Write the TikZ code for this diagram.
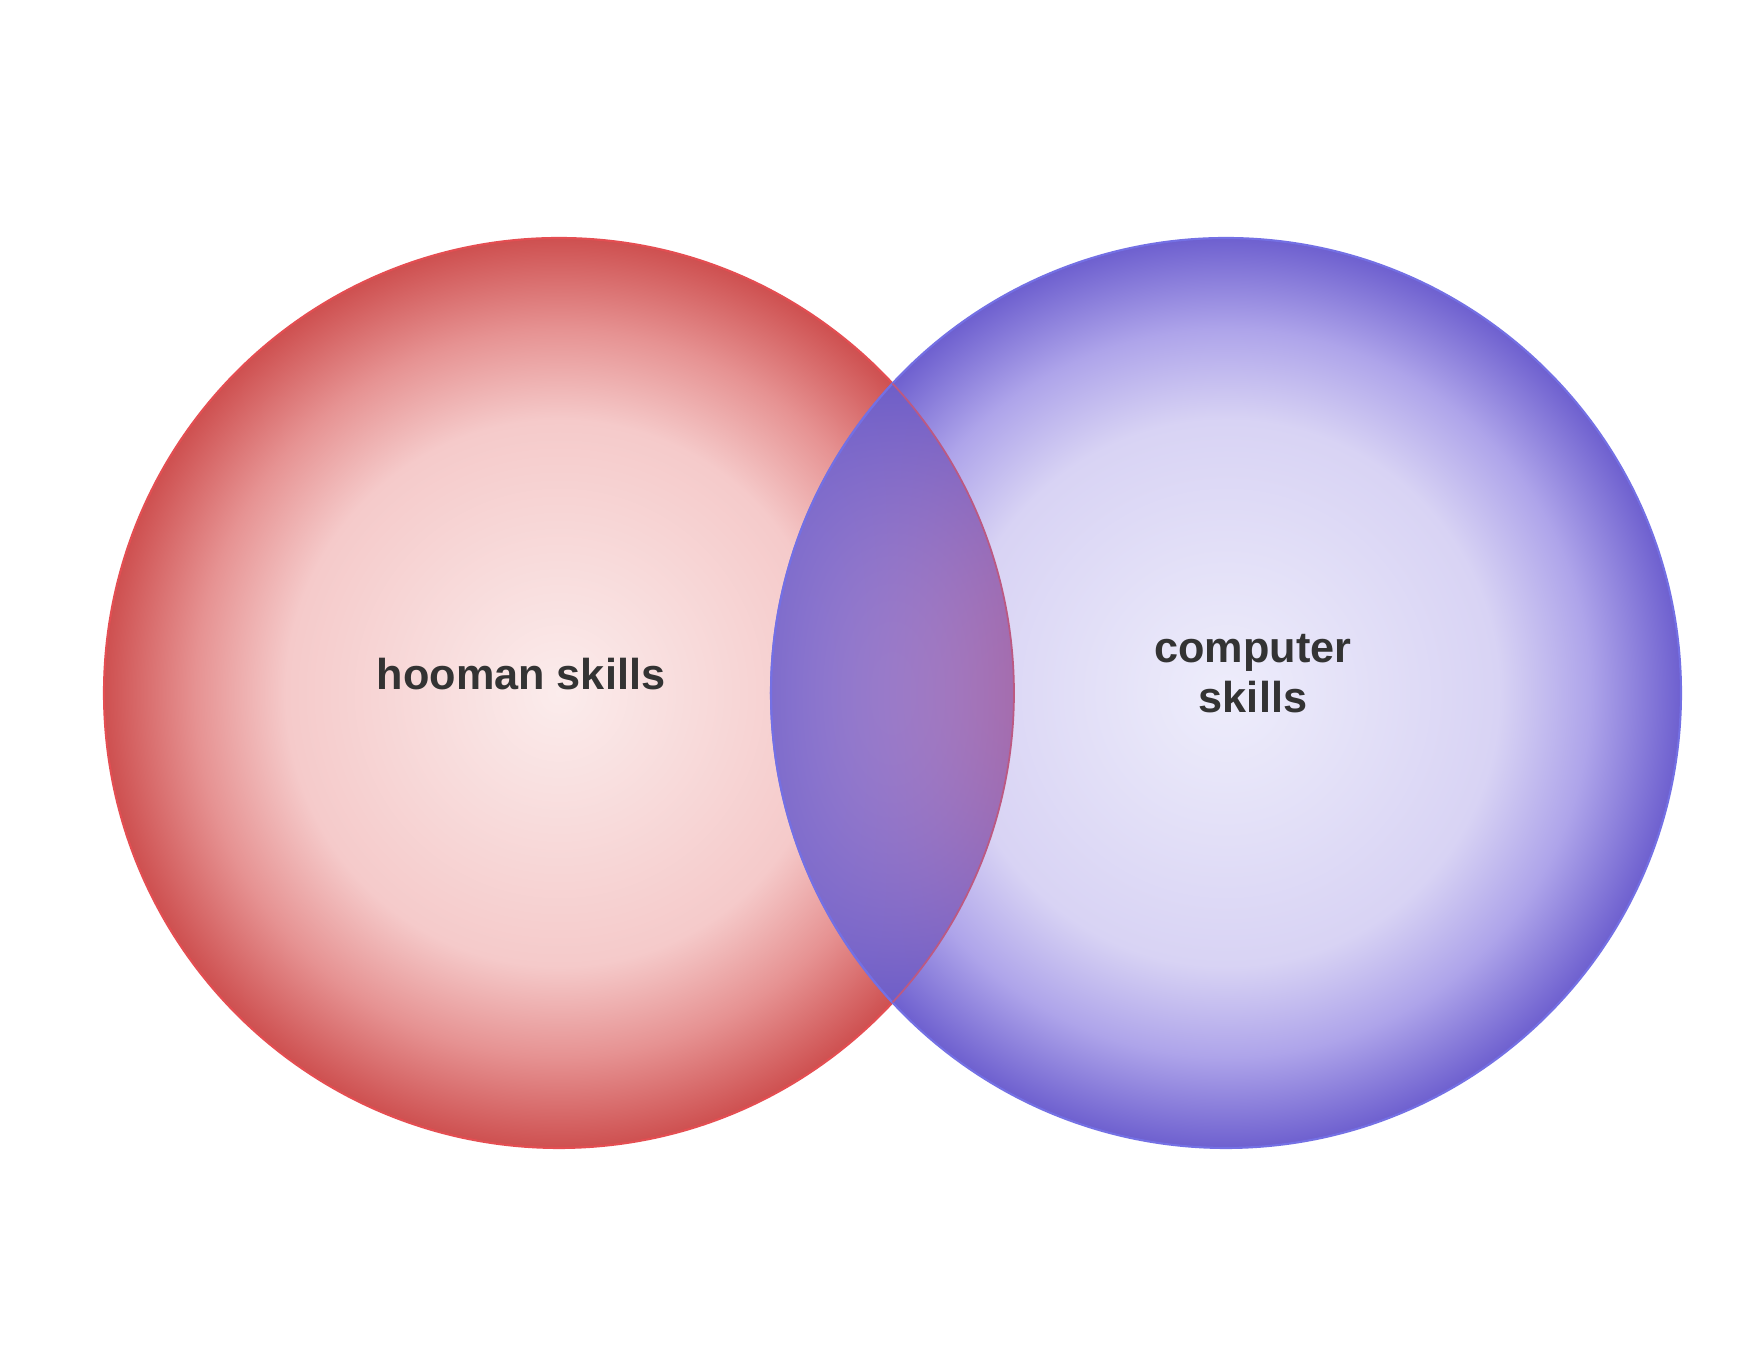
\documentclass[tikz,border=0pt]{standalone}
\usepackage{fontspec}
\setmainfont{Liberation Sans}
\usepackage{tikz}
\usetikzlibrary{positioning,calc}
\usepackage{xcolor}
\definecolor{redin}{RGB}{251,236,236}
\definecolor{redmid}{RGB}{245,202,202}
\definecolor{redrim}{RGB}{230,146,146}
\definecolor{redout}{RGB}{206,80,80}
\definecolor{redline}{RGB}{228,78,82}
\definecolor{bluein}{RGB}{238,237,251}
\definecolor{bluemid}{RGB}{216,211,244}
\definecolor{bluerim}{RGB}{174,164,234}
\definecolor{blueout}{RGB}{110,96,207}
\definecolor{blueline}{RGB}{116,112,228}
\definecolor{lensedge}{RGB}{162,96,162}
\definecolor{labelgray}{RGB}{51,51,51}

\pgfdeclareradialshading{redball}{\pgfpoint{0bp}{0bp}}{color(0bp)=(redin); color(15bp)=(redmid); color(20bp)=(redrim); color(25bp)=(redout); color(50bp)=(redout)}
\pgfdeclareradialshading{blueball}{\pgfpoint{0bp}{0bp}}{color(0bp)=(bluein); color(15bp)=(bluemid); color(20bp)=(bluerim); color(25bp)=(blueout); color(50bp)=(blueout)}
% overlap: purple band, bluer at the left side and at the tips
\pgfdeclarefunctionalshading{lensband}{\pgfpoint{0bp}{0bp}}{\pgfpoint{100bp}{100bp}}{}{
  50 sub 25 div dup mul exch 50 sub 25 div
  1 index 1 index dup dup mul -15 mul exch 25 mul add 154 add
  dup 110 exch sub 3 -1 roll mul add 255 div 3 1 roll
  1 index 1 index dup mul -24 mul 122 add
  dup 94 exch sub 3 -1 roll mul add 255 div 3 1 roll
  dup dup mul -20 mul exch -20 mul add 200 add
  dup 200 exch sub 3 -1 roll mul add 255 div
}

\begin{document}
\begin{tikzpicture}[
    setcircle/.style={circle, minimum size=9.1cm, inner sep=0pt, line width=0.6pt, shade},
    setlabel/.style={inner sep=0pt, align=center, text=labelgray, font=\fontsize{12.3}{14.2}\selectfont\bfseries}
]
    \fill[white] (0,0) rectangle (17.6,13.6);
    \useasboundingbox (0,0) rectangle (17.6,13.6);

    % the two sets
    \node[setcircle, shading=redball, draw=redline] (hooman) at (5.59,6.67) {};
    \node[setcircle, shading=blueball, draw=blueline] (computer) at (12.26,6.67) {};

    % overlap
    \coordinate (lenstop) at ($(hooman.center)+(42.86:4.55)$);
    \path[shading=lensband, shade] (lenstop) arc[start angle=42.86, end angle=-42.86, radius=4.55]
        arc[start angle=222.86, end angle=137.14, radius=4.55] -- cycle;
    \draw[blueline, line width=0.6pt] (lenstop) arc[start angle=137.14, end angle=222.86, radius=4.55];
    \draw[redline!40!lensedge, line width=0.5pt] (lenstop) arc[start angle=42.86, end angle=-42.86, radius=4.55];

    % labels
    \node[setlabel] (hoomanlabel) at (5.21,6.86) {hooman skills};
    \node[setlabel] (computerlabel) at (12.53,6.86) {computer\\skills};
\end{tikzpicture}
\end{document}
